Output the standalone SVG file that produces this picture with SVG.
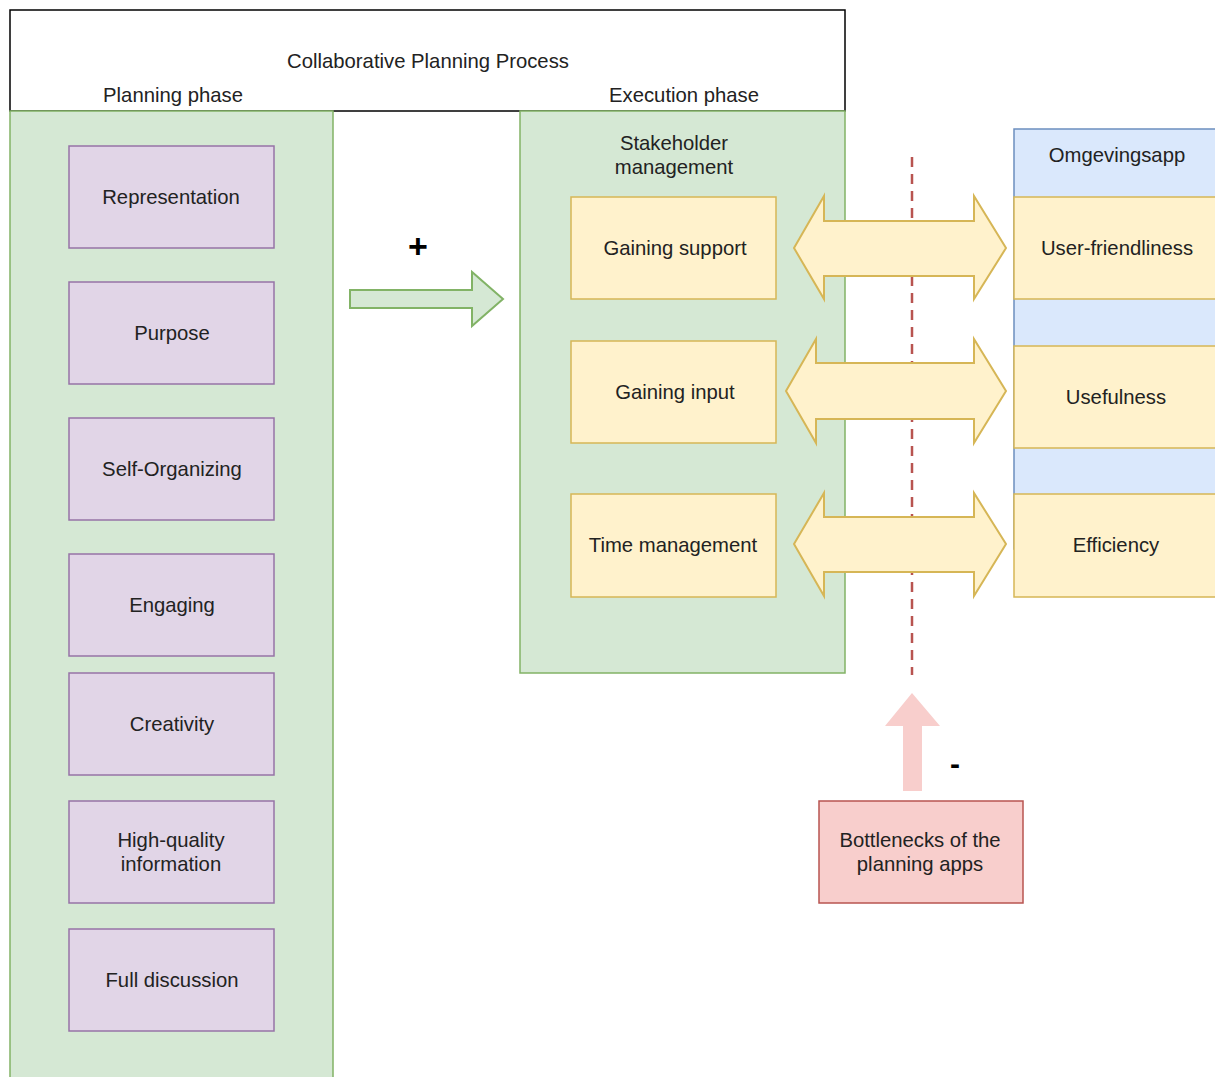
<svg xmlns="http://www.w3.org/2000/svg" width="1215" height="1077" viewBox="0 0 1215 1077">
<style>
text{font-family:"Liberation Sans",Arial,sans-serif;font-size:20.3px;fill:#222;text-anchor:middle;dominant-baseline:central}
.green{fill:#d5e8d4;stroke:#82b366;stroke-width:1.5}
.purple{fill:#e1d5e7;stroke:#9673a6;stroke-width:1.5}
.yellow{fill:#fff2cc;stroke:#d6b656;stroke-width:1.5}
.blue{fill:#dae8fc;stroke:#6c8ebf;stroke-width:1.5}
.red{fill:#f8cecc;stroke:#b85450;stroke-width:1.5}
.dbl{fill:#fff2cc;stroke:#d6b656;stroke-width:2;stroke-linejoin:miter}
</style>
<rect width="1215" height="1077" fill="#fff"/>
<g id="pool">
<rect x="10" y="10" width="835" height="101" fill="#fff" stroke="#000" stroke-width="1.5"/>
<text x="428" y="61">Collaborative Planning Process</text>
<text x="173" y="95">Planning phase</text>
<text x="684" y="95">Execution phase</text>
</g>
<g id="planning-lane">
<rect class="green" x="10" y="111" width="323" height="980"/>
</g>
<g id="execution-lane">
<rect class="green" x="520" y="111" width="325" height="562"/>
<text x="674" y="143">Stakeholder</text>
<text x="674" y="167">management</text>
</g>
<g id="representation"><rect class="purple" x="69" y="146" width="205" height="102"/><text x="171" y="197">Representation</text></g>
<g id="purpose"><rect class="purple" x="69" y="282" width="205" height="102"/><text x="172" y="333">Purpose</text></g>
<g id="self-organizing"><rect class="purple" x="69" y="418" width="205" height="102"/><text x="172" y="469">Self-Organizing</text></g>
<g id="engaging"><rect class="purple" x="69" y="554" width="205" height="102"/><text x="172" y="605">Engaging</text></g>
<g id="creativity"><rect class="purple" x="69" y="673" width="205" height="102"/><text x="172" y="724">Creativity</text></g>
<g id="high-quality"><rect class="purple" x="69" y="801" width="205" height="102"/><text x="171" y="840">High-quality</text><text x="171" y="864">information</text></g>
<g id="full-discussion"><rect class="purple" x="69" y="929" width="205" height="102"/><text x="172" y="980">Full discussion</text></g>
<g id="gaining-support"><rect class="yellow" x="571" y="197" width="205" height="102"/><text x="675" y="248">Gaining support</text></g>
<g id="gaining-input"><rect class="yellow" x="571" y="341" width="205" height="102"/><text x="675" y="392">Gaining input</text></g>
<g id="time-management"><rect class="yellow" x="571" y="494" width="205" height="103"/><text x="673" y="545">Time management</text></g>
<g id="omgevingsapp">
<rect class="blue" x="1014" y="129" width="206" height="420"/>
<text x="1117" y="155">Omgevingsapp</text>
</g>
<g id="user-friendliness"><rect class="yellow" x="1014" y="197" width="206" height="102"/><text x="1117" y="248">User-friendliness</text></g>
<g id="usefulness"><rect class="yellow" x="1014" y="346" width="206" height="102"/><text x="1116" y="397">Usefulness</text></g>
<g id="efficiency"><rect class="yellow" x="1014" y="494" width="206" height="103"/><text x="1116" y="545">Efficiency</text></g>
<g id="bottlenecks"><rect class="red" x="819" y="801" width="204" height="102"/><text x="920" y="840">Bottlenecks of the</text><text x="920" y="864">planning apps</text></g>
<g id="connectors">
<line x1="912" y1="157" x2="912" y2="675" stroke="#b85450" stroke-width="2.5" stroke-dasharray="10,7"/>
<path class="dbl" d="M794,248 L824,196 L824,221 L974,221 L974,196 L1006,248 L974,299 L974,276 L824,276 L824,299 Z"/>
<path class="dbl" d="M786,391 L816,339 L816,363 L974,363 L974,339 L1006,391 L974,443 L974,419 L816,419 L816,443 Z"/>
<path class="dbl" d="M794,544 L824,493 L824,517 L974,517 L974,493 L1006,544 L974,596 L974,572 L824,572 L824,596 Z"/>
<path d="M350,290 L472,290 L472,272 L503,299 L472,326 L472,308 L350,308 Z" fill="#d5e8d4" stroke="#82b366" stroke-width="2"/>
<text x="418" y="246" style="font-size:34px;font-weight:bold;fill:#000">+</text>
<text x="955" y="763" style="font-size:30px;font-weight:bold;fill:#000">-</text>
<path d="M912,693 L940,726 L922,726 L922,791 L903,791 L903,726 L885,726 Z" fill="#f8cecc"/>
</g>
</svg>
